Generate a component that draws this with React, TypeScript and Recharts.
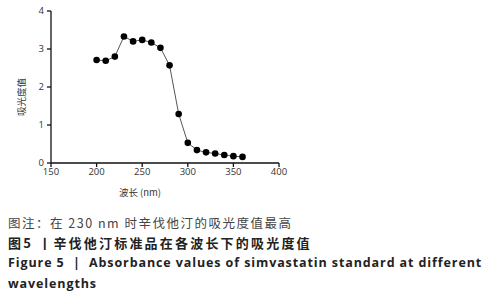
import React from 'react';
import { LineChart, Line, XAxis, YAxis } from 'recharts';

const wavelengths = [200, 210, 220, 230, 240, 250, 260, 270, 280, 290, 300, 310, 320, 330, 340, 350, 360];
const absorbance = [2.71, 2.69, 2.8, 3.33, 3.2, 3.24, 3.17, 3.03, 2.57, 1.29, 0.53, 0.34, 0.28, 0.25, 0.21, 0.18, 0.16];
const xTicks = [150, 200, 250, 300, 350, 400];
const yTicks = [0, 1, 2, 3, 4];

const data = wavelengths.map((w, i) => ({ w, a: absorbance[i] }));

const tickStyle = { fontSize: 9.5, fill: '#333', fontFamily: 'Open Sans, sans-serif' };

export default function App() {
  return (
    <div style={{ position: 'fixed', left: 0, top: 0, width: 490, height: 300, background: '#fff', fontFamily: '"Noto Sans CJK SC", "Open Sans", sans-serif' }}>
      <LineChart width={300} height={200} data={data} margin={{ top: 11, right: 21, left: 0, bottom: 0 }}>
        <XAxis
          type="number"
          dataKey="w"
          domain={[150, 400]}
          ticks={xTicks}
          height={37}
          tick={tickStyle}
          tickSize={4}
          tickMargin={1}
          stroke="#111"
          strokeWidth={1.3}
        />
        <YAxis
          type="number"
          domain={[0, 4]}
          ticks={yTicks}
          width={51}
          tick={tickStyle}
          tickSize={4}
          tickMargin={3}
          stroke="#111"
          strokeWidth={1.3}
        />
        <Line
          dataKey="a"
          stroke="#555"
          strokeWidth={1}
          dot={{ r: 3.3, fill: '#000', stroke: '#000', strokeWidth: 0 }}
          isAnimationActive={false}
        />
      </LineChart>
      <div style={{ position: 'absolute', left: 21, top: 97, transform: 'translate(-50%, -50%) rotate(-90deg)', fontSize: 9.5, color: '#333', whiteSpace: 'nowrap' }}>
        吸光度值
      </div>
      <div style={{ position: 'absolute', left: 140, top: 192, transform: 'translate(-50%, -50%)', fontSize: 9.5, color: '#333', whiteSpace: 'nowrap' }}>
        波长 (nm)
      </div>
      <div style={{ position: 'absolute', left: 8, top: 213, fontSize: 12.5, color: '#444', whiteSpace: 'nowrap', letterSpacing: 1.5 }}>
        图注：在 230 nm 时辛伐他汀的吸光度值最高
      </div>
      <div style={{ position: 'absolute', left: 8, top: 233, fontSize: 13, fontWeight: 600, color: '#222', whiteSpace: 'nowrap', letterSpacing: 2.2 }}>
        图5 丨辛伐他汀标准品在各波长下的吸光度值
      </div>
      <div style={{ position: 'absolute', left: 8, top: 254, fontSize: 12.5, fontWeight: 700, color: '#222', whiteSpace: 'nowrap', fontFamily: '"Open Sans", sans-serif', letterSpacing: 0.9 }}>
        Figure 5&nbsp;&nbsp;|&nbsp;&nbsp;Absorbance values of simvastatin standard at different
      </div>
      <div style={{ position: 'absolute', left: 8, top: 275, fontSize: 12.5, fontWeight: 700, color: '#222', whiteSpace: 'nowrap', fontFamily: '"Open Sans", sans-serif', letterSpacing: 0.9 }}>
        wavelengths
      </div>
    </div>
  );
}
